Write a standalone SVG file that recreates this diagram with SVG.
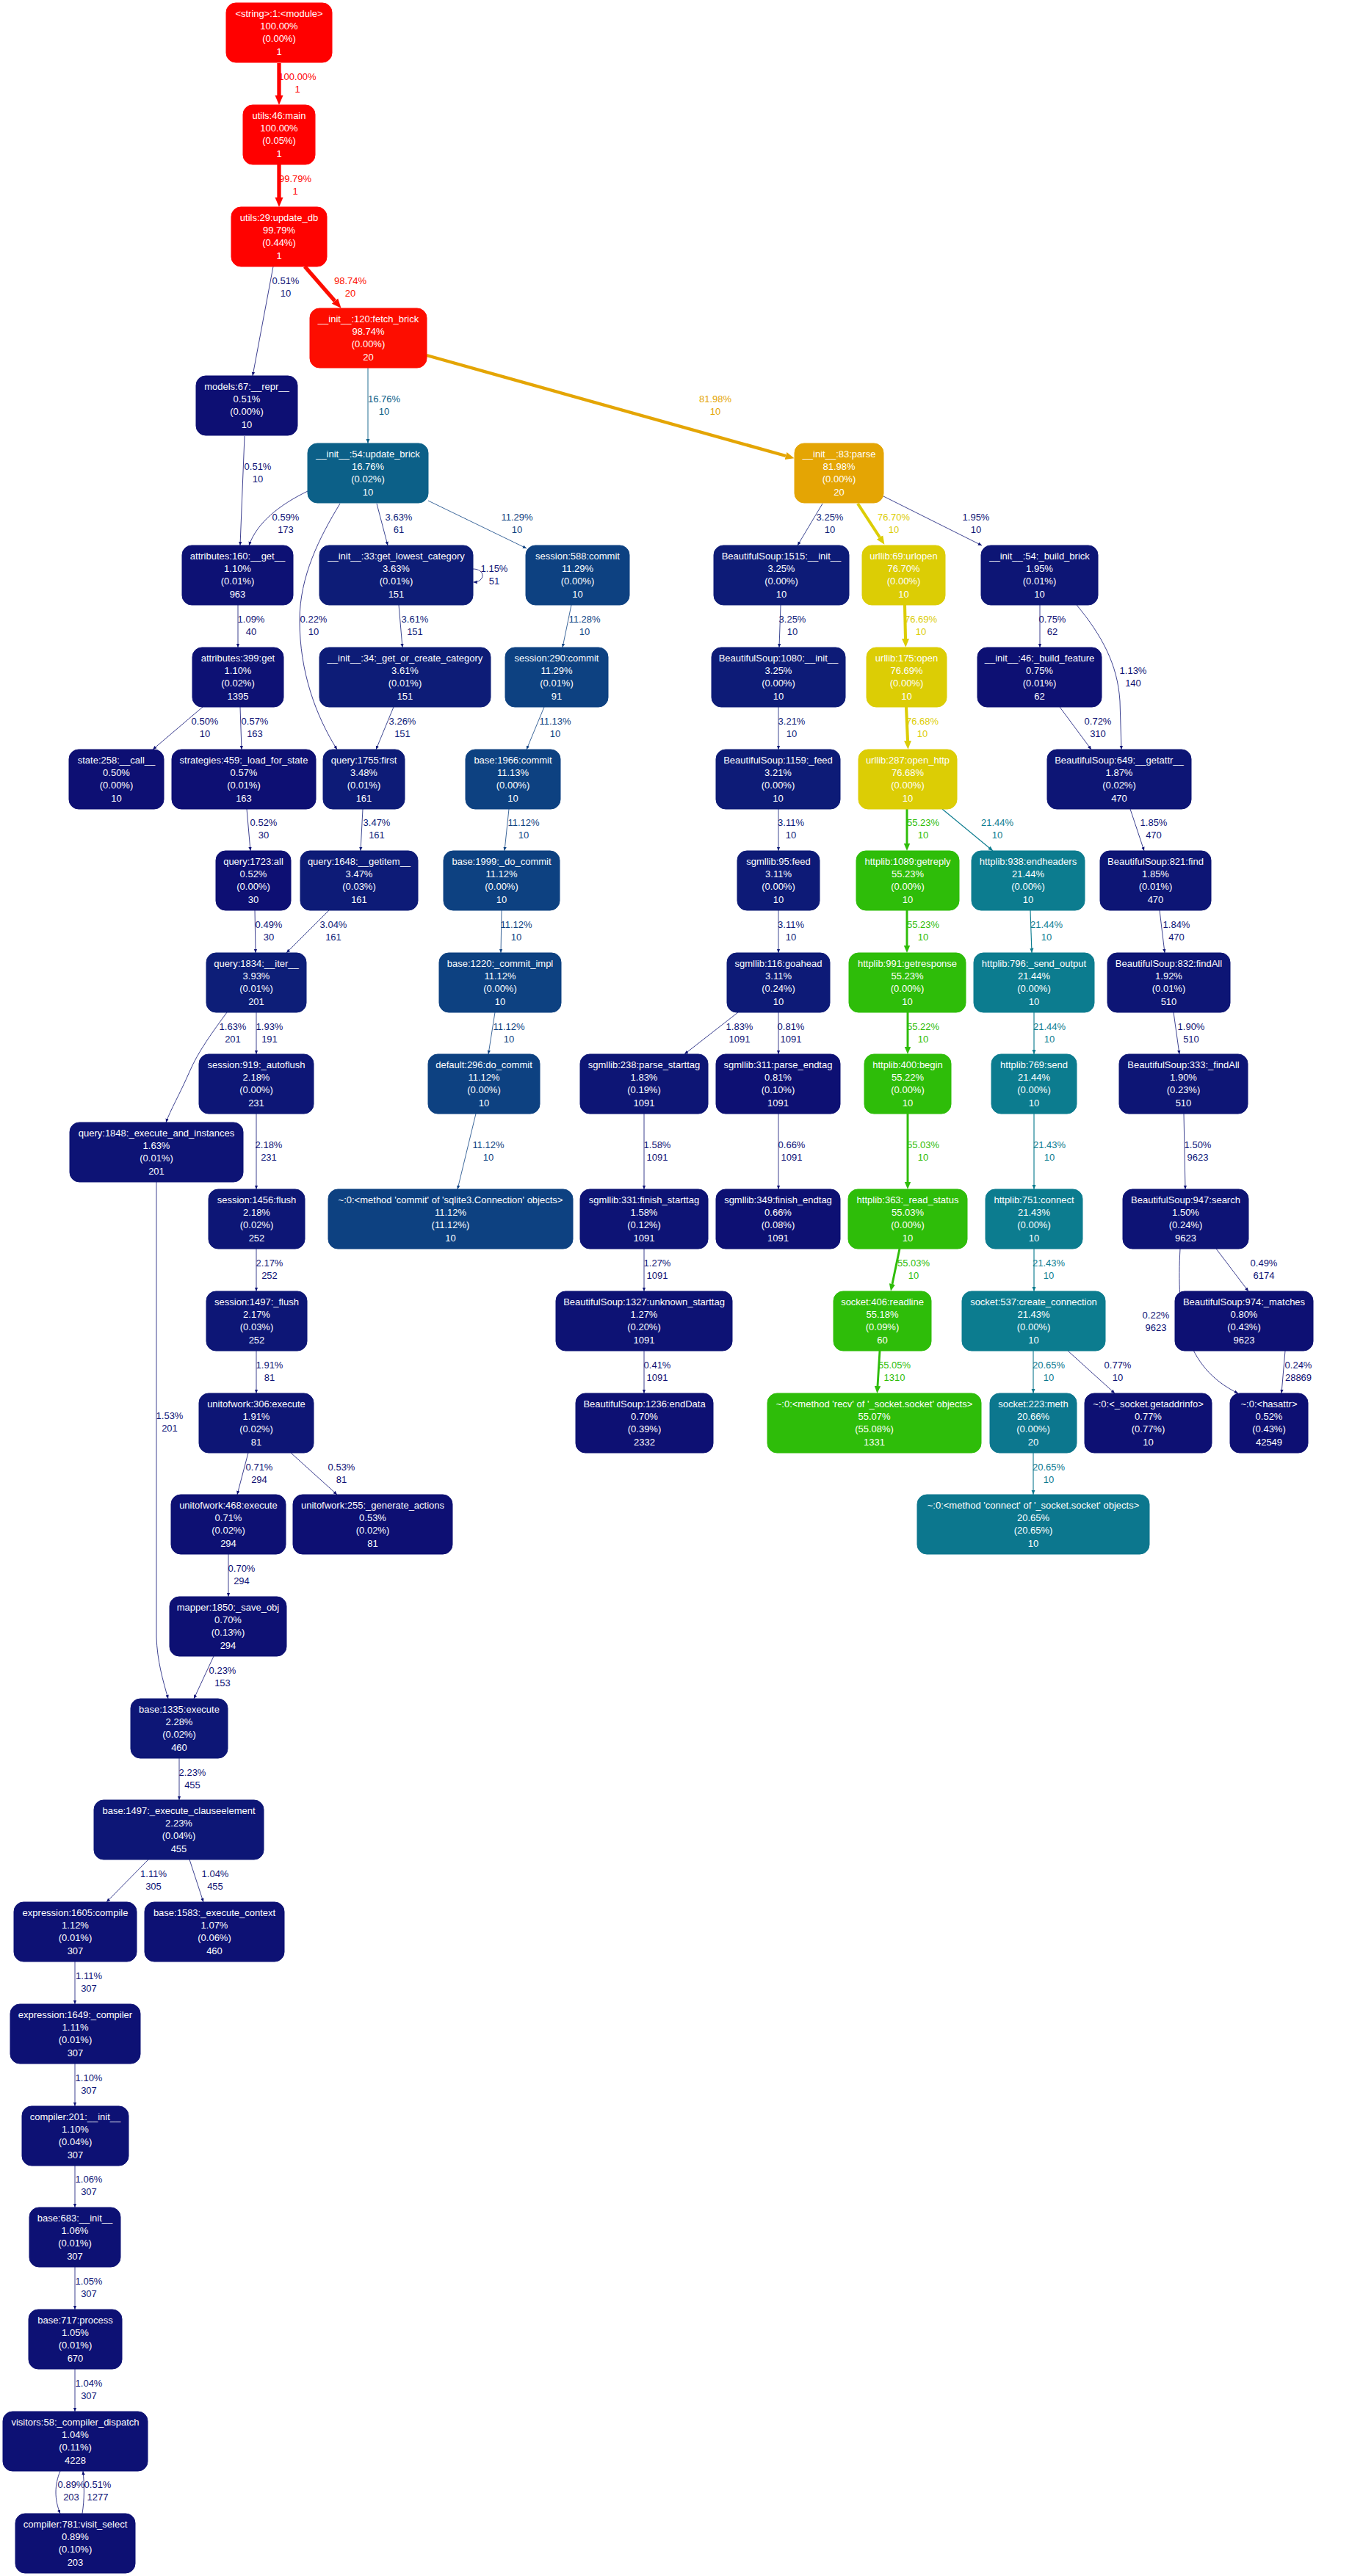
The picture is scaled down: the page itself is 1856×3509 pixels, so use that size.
<svg xmlns="http://www.w3.org/2000/svg" width="1856" height="3509" viewBox="0 0 1856 3509">
<style>
  .node rect { stroke-width: 1; }
  .node text { font-family: "Liberation Sans", Arial, Helvetica, sans-serif; font-size: 13px; fill: #ffffff; text-anchor: middle; }
  .edge path { fill: none; stroke-width: 0.8px; }
  .edge text { font-family: "Liberation Sans", Arial, Helvetica, sans-serif; font-size: 13px; text-anchor: middle; }
  /* node fills by inclusive time */
  .cR rect { fill: #ff0000; stroke: #ff0000; }
  .cR2 rect { fill: #ff0200; stroke: #ff0200; }
  .cR3 rect { fill: #fd0d00; stroke: #fd0d00; }
  .cO rect { fill: #e4a504; stroke: #e4a504; }
  .cY rect { fill: #dccd05; stroke: #dccd05; }
  .cG rect { fill: #2ebd09; stroke: #2ebd09; }
  .cT rect { fill: #0c7c8f; stroke: #0c7c8f; }
  .cT2 rect { fill: #0c778e; stroke: #0c778e; }
  .cB16 rect { fill: #0c6088; stroke: #0c6088; }
  .cB11 rect { fill: #0d4181; stroke: #0d4181; }
  .n0 rect { fill: #0d0f73; stroke: #0d0f73; }
  .n1 rect { fill: #0d1073; stroke: #0d1073; }
  .n2 rect { fill: #0d1174; stroke: #0d1174; }
  .n3 rect { fill: #0d1274; stroke: #0d1274; }
  .n4 rect { fill: #0d1375; stroke: #0d1375; }
  .n5 rect { fill: #0d1575; stroke: #0d1575; }
  .n6 rect { fill: #0d1676; stroke: #0d1676; }
  .n7 rect { fill: #0d1a77; stroke: #0d1a77; }
  .n8 rect { fill: #0d1b77; stroke: #0d1b77; }
  .n9 rect { fill: #0d1c77; stroke: #0d1c77; }
  .n10 rect { fill: #0d1e78; stroke: #0d1e78; }
  /* call edges by weight */
  .eR path { stroke: #ff0000; stroke-width: 5.33px; marker-end: url(#mR); } .eR text { fill: #ff0000; }
  .eR2 path { stroke: #ff0200; stroke-width: 5.32px; marker-end: url(#mR2); } .eR2 text { fill: #ff0200; }
  .eR3 path { stroke: #fd0d00; stroke-width: 5.27px; marker-end: url(#mR3); } .eR3 text { fill: #fd0d00; }
  .eO path { stroke: #e4a504; stroke-width: 4.37px; marker-end: url(#mO); } .eO text { fill: #e4a504; }
  .eY path { stroke: #dccd05; stroke-width: 4.09px; marker-end: url(#mY); } .eY text { fill: #dccd05; }
  .eG path { stroke: #2ebd09; stroke-width: 2.94px; marker-end: url(#mG); } .eG text { fill: #2ebd09; }
  .eT path { stroke: #0c7c8f; stroke-width: 1.14px; marker-end: url(#mT); } .eT text { fill: #0c7c8f; }
  .eT2 path { stroke: #0c778e; stroke-width: 1.1px; marker-end: url(#mT2); } .eT2 text { fill: #0c778e; }
  .eB16 path { stroke: #0c6088; stroke-width: 0.9px; marker-end: url(#mB16); } .eB16 text { fill: #0c6088; }
  .eB11 path { stroke: #0d4181; marker-end: url(#mB11); } .eB11 text { fill: #0d4181; }
  .eN0 path { stroke: #0d0f73; marker-end: url(#mN0); } .eN0 text { fill: #0d0f73; }
  .eN1 path { stroke: #0d1375; marker-end: url(#mN1); } .eN1 text { fill: #0d1375; }
  .eN2 path { stroke: #0d1b77; marker-end: url(#mN2); } .eN2 text { fill: #0d1b77; }
</style>
<defs>
  <!-- heavy arrows: base sits on the path end -->
  <marker id="mR" markerUnits="userSpaceOnUse" viewBox="0 -6 14 12" markerWidth="14" markerHeight="12" refX="0" refY="0" orient="auto"><path d="M0,-5.5 L13,0 L0,5.5 z" fill="#ff0000"/></marker>
  <marker id="mR2" markerUnits="userSpaceOnUse" viewBox="0 -6 14 12" markerWidth="14" markerHeight="12" refX="0" refY="0" orient="auto"><path d="M0,-5.5 L13,0 L0,5.5 z" fill="#ff0200"/></marker>
  <marker id="mR3" markerUnits="userSpaceOnUse" viewBox="0 -6 14 12" markerWidth="14" markerHeight="12" refX="0" refY="0" orient="auto"><path d="M0,-5.5 L13,0 L0,5.5 z" fill="#fd0d00"/></marker>
  <marker id="mO" markerUnits="userSpaceOnUse" viewBox="0 -6 13 12" markerWidth="13" markerHeight="12" refX="0" refY="0" orient="auto"><path d="M0,-5.2 L12,0 L0,5.2 z" fill="#e4a504"/></marker>
  <marker id="mY" markerUnits="userSpaceOnUse" viewBox="0 -6 13 12" markerWidth="13" markerHeight="12" refX="0" refY="0" orient="auto"><path d="M0,-5 L11.7,0 L0,5 z" fill="#dccd05"/></marker>
  <marker id="mG" markerUnits="userSpaceOnUse" viewBox="0 -5 11 10" markerWidth="11" markerHeight="10" refX="0" refY="0" orient="auto"><path d="M0,-4.2 L9.9,0 L0,4.2 z" fill="#2ebd09"/></marker>
  <!-- light arrows: tip sits on the path end -->
  <marker id="mT" markerUnits="userSpaceOnUse" viewBox="0 -3 7 6" markerWidth="7" markerHeight="6" refX="6.5" refY="0" orient="auto"><path d="M0,-2.7 L6.5,0 L0,2.7 z" fill="#0c7c8f"/></marker>
  <marker id="mT2" markerUnits="userSpaceOnUse" viewBox="0 -3 7 6" markerWidth="7" markerHeight="6" refX="6.4" refY="0" orient="auto"><path d="M0,-2.6 L6.4,0 L0,2.6 z" fill="#0c778e"/></marker>
  <marker id="mB16" markerUnits="userSpaceOnUse" viewBox="0 -3 7 6" markerWidth="7" markerHeight="6" refX="6" refY="0" orient="auto"><path d="M0,-2.5 L6,0 L0,2.5 z" fill="#0c6088"/></marker>
  <marker id="mB11" markerUnits="userSpaceOnUse" viewBox="0 -3 6 6" markerWidth="6" markerHeight="6" refX="5.2" refY="0" orient="auto"><path d="M0,-2.2 L5.2,0 L0,2.2 z" fill="#0d4181"/></marker>
  <marker id="mN0" markerUnits="userSpaceOnUse" viewBox="0 -3 6 6" markerWidth="6" markerHeight="6" refX="5.2" refY="0" orient="auto"><path d="M0,-2.2 L5.2,0 L0,2.2 z" fill="#0d0f73"/></marker>
  <marker id="mN1" markerUnits="userSpaceOnUse" viewBox="0 -3 6 6" markerWidth="6" markerHeight="6" refX="5.2" refY="0" orient="auto"><path d="M0,-2.2 L5.2,0 L0,2.2 z" fill="#0d1375"/></marker>
  <marker id="mN2" markerUnits="userSpaceOnUse" viewBox="0 -3 6 6" markerWidth="6" markerHeight="6" refX="5.2" refY="0" orient="auto"><path d="M0,-2.2 L5.2,0 L0,2.2 z" fill="#0d1b77"/></marker>
</defs>
<rect x="0" y="0" width="1856" height="3509" fill="#ffffff"/>

<g id="edges">
  <g class="edge eR"><path d="M380,86 L380,130"/><text x="405" y="108.7">100.00%<tspan x="405" dy="17.5">1</tspan></text></g>
  <g class="edge eR2"><path d="M380,224 L380,269"/><text x="402" y="247.7">99.79%<tspan x="402" dy="17.5">1</tspan></text></g>
  <g class="edge eR3"><path d="M415,363 L456,410"/><text x="477" y="386.7">98.74%<tspan x="477" dy="17.5">20</tspan></text></g>
  <g class="edge eN0"><path d="M372,363 L344,512"/><text x="389" y="386.7">0.51%<tspan x="389" dy="17.5">10</tspan></text></g>
  <g class="edge eB16"><path d="M501,501 L501,604"/><text x="523" y="547.7">16.76%<tspan x="523" dy="17.5">10</tspan></text></g>
  <g class="edge eO"><path d="M581,484 L1070,621"/><text x="974" y="547.7">81.98%<tspan x="974" dy="17.5">10</tspan></text></g>
  <g class="edge eN0"><path d="M419,669 C380,688 350,712 339,743"/><text x="389" y="708.7">0.59%<tspan x="389" dy="17.5">173</tspan></text></g>
  <g class="edge eN0"><path d="M333,594 L327,743"/><text x="351" y="639.7">0.51%<tspan x="351" dy="17.5">10</tspan></text></g>
  <g class="edge eN0"><path d="M463,686 C435,732 408,785 408,845 C408,915 430,975 459,1021"/><text x="427" y="847.7">0.22%<tspan x="427" dy="17.5">10</tspan></text></g>
  <g class="edge eN2"><path d="M513,686 L528,743"/><text x="543" y="708.7">3.63%<tspan x="543" dy="17.5">61</tspan></text></g>
  <g class="edge eB11"><path d="M583,682 L717,747"/><text x="704" y="708.7">11.29%<tspan x="704" dy="17.5">10</tspan></text></g>
  <g class="edge eN1"><path d="M644,775 C652,775 657,779 657,784 C657,789 652,793 644.5,793"/><text x="673" y="778.7">1.15%<tspan x="673" dy="17.5">51</tspan></text></g>
  <g class="edge eN2"><path d="M1120,686 L1086,743"/><text x="1130" y="708.7">3.25%<tspan x="1130" dy="17.5">10</tspan></text></g>
  <g class="edge eY"><path d="M1168,686 L1198,732"/><text x="1217" y="708.7">76.70%<tspan x="1217" dy="17.5">10</tspan></text></g>
  <g class="edge eN1"><path d="M1203,676 L1337,743"/><text x="1329" y="708.7">1.95%<tspan x="1329" dy="17.5">10</tspan></text></g>
  <g class="edge eN1"><path d="M324,824 L324,882"/><text x="342" y="847.7">1.09%<tspan x="342" dy="17.5">40</tspan></text></g>
  <g class="edge eN2"><path d="M543,824 L548,882"/><text x="565" y="847.7">3.61%<tspan x="565" dy="17.5">151</tspan></text></g>
  <g class="edge eB11"><path d="M778,824 L766,882"/><text x="796" y="847.7">11.28%<tspan x="796" dy="17.5">10</tspan></text></g>
  <g class="edge eN2"><path d="M1063,824 L1061,882"/><text x="1079" y="847.7">3.25%<tspan x="1079" dy="17.5">10</tspan></text></g>
  <g class="edge eY"><path d="M1232,824 L1233,870"/><text x="1254" y="847.7">76.69%<tspan x="1254" dy="17.5">10</tspan></text></g>
  <g class="edge eN0"><path d="M1416,824 L1416,882"/><text x="1433" y="847.7">0.75%<tspan x="1433" dy="17.5">62</tspan></text></g>
  <g class="edge eN1"><path d="M1466,824 C1500,865 1522,905 1525,955 L1527,1021"/><text x="1543" y="917.7">1.13%<tspan x="1543" dy="17.5">140</tspan></text></g>
  <g class="edge eN0"><path d="M276,963 L208,1021"/><text x="279" y="986.7">0.50%<tspan x="279" dy="17.5">10</tspan></text></g>
  <g class="edge eN0"><path d="M327,963 L329,1021"/><text x="347" y="986.7">0.57%<tspan x="347" dy="17.5">163</tspan></text></g>
  <g class="edge eN2"><path d="M536,963 L512,1021"/><text x="548" y="986.7">3.26%<tspan x="548" dy="17.5">151</tspan></text></g>
  <g class="edge eB11"><path d="M741,963 L717,1021"/><text x="756" y="986.7">11.13%<tspan x="756" dy="17.5">10</tspan></text></g>
  <g class="edge eN2"><path d="M1060,963 L1060,1021"/><text x="1078" y="986.7">3.21%<tspan x="1078" dy="17.5">10</tspan></text></g>
  <g class="edge eY"><path d="M1234,963 L1236,1009"/><text x="1256" y="986.7">76.68%<tspan x="1256" dy="17.5">10</tspan></text></g>
  <g class="edge eN0"><path d="M1443,963 L1486,1021"/><text x="1495" y="986.7">0.72%<tspan x="1495" dy="17.5">310</tspan></text></g>
  <g class="edge eN0"><path d="M336,1102 L341,1159"/><text x="359" y="1124.7">0.52%<tspan x="359" dy="17.5">30</tspan></text></g>
  <g class="edge eN2"><path d="M494,1102 L491,1159"/><text x="513" y="1124.7">3.47%<tspan x="513" dy="17.5">161</tspan></text></g>
  <g class="edge eB11"><path d="M693,1102 L687,1159"/><text x="713" y="1124.7">11.12%<tspan x="713" dy="17.5">10</tspan></text></g>
  <g class="edge eN2"><path d="M1060,1102 L1060,1159"/><text x="1077" y="1124.7">3.11%<tspan x="1077" dy="17.5">10</tspan></text></g>
  <g class="edge eG"><path d="M1235,1102 L1235,1149"/><text x="1257" y="1124.7">55.23%<tspan x="1257" dy="17.5">10</tspan></text></g>
  <g class="edge eT"><path d="M1283,1102 L1352,1159"/><text x="1358" y="1124.7">21.44%<tspan x="1358" dy="17.5">10</tspan></text></g>
  <g class="edge eN1"><path d="M1539,1102 L1558,1159"/><text x="1571" y="1124.7">1.85%<tspan x="1571" dy="17.5">470</tspan></text></g>
  <g class="edge eN0"><path d="M347,1240 L348,1298"/><text x="366" y="1263.7">0.49%<tspan x="366" dy="17.5">30</tspan></text></g>
  <g class="edge eN2"><path d="M448,1240 L390,1298"/><text x="454" y="1263.7">3.04%<tspan x="454" dy="17.5">161</tspan></text></g>
  <g class="edge eB11"><path d="M683,1240 L682,1298"/><text x="703" y="1263.7">11.12%<tspan x="703" dy="17.5">10</tspan></text></g>
  <g class="edge eN2"><path d="M1060,1240 L1060,1298"/><text x="1077" y="1263.7">3.11%<tspan x="1077" dy="17.5">10</tspan></text></g>
  <g class="edge eG"><path d="M1235,1240 L1235,1288"/><text x="1257" y="1263.7">55.23%<tspan x="1257" dy="17.5">10</tspan></text></g>
  <g class="edge eT"><path d="M1403,1240 L1405,1298"/><text x="1425" y="1263.7">21.44%<tspan x="1425" dy="17.5">10</tspan></text></g>
  <g class="edge eN1"><path d="M1579,1240 L1586,1298"/><text x="1602" y="1263.7">1.84%<tspan x="1602" dy="17.5">470</tspan></text></g>
  <g class="edge eN1"><path d="M309,1379 C290,1405 270,1432 258,1460 C245,1490 232,1512 226,1529"/><text x="317" y="1402.7">1.63%<tspan x="317" dy="17.5">201</tspan></text></g>
  <g class="edge eN1"><path d="M349,1379 L349,1436"/><text x="367" y="1402.7">1.93%<tspan x="367" dy="17.5">191</tspan></text></g>
  <g class="edge eB11"><path d="M674,1379 L665,1436"/><text x="693" y="1402.7">11.12%<tspan x="693" dy="17.5">10</tspan></text></g>
  <g class="edge eN1"><path d="M1005,1379 L932,1436"/><text x="1007" y="1402.7">1.83%<tspan x="1007" dy="17.5">1091</tspan></text></g>
  <g class="edge eN0"><path d="M1060,1379 L1060,1436"/><text x="1077" y="1402.7">0.81%<tspan x="1077" dy="17.5">1091</tspan></text></g>
  <g class="edge eG"><path d="M1236,1379 L1236,1426"/><text x="1257" y="1402.7">55.22%<tspan x="1257" dy="17.5">10</tspan></text></g>
  <g class="edge eT"><path d="M1408,1379 L1408,1436"/><text x="1429" y="1402.7">21.44%<tspan x="1429" dy="17.5">10</tspan></text></g>
  <g class="edge eN1"><path d="M1598,1379 L1606,1436"/><text x="1622" y="1402.7">1.90%<tspan x="1622" dy="17.5">510</tspan></text></g>
  <g class="edge eN1"><path d="M349,1517 L349,1620"/><text x="366" y="1563.7">2.18%<tspan x="366" dy="17.5">231</tspan></text></g>
  <g class="edge eB11"><path d="M648,1517 L623,1620"/><text x="665" y="1563.7">11.12%<tspan x="665" dy="17.5">10</tspan></text></g>
  <g class="edge eN1"><path d="M877,1517 L877,1620"/><text x="895" y="1563.7">1.58%<tspan x="895" dy="17.5">1091</tspan></text></g>
  <g class="edge eN0"><path d="M1060,1517 L1060,1620"/><text x="1078" y="1563.7">0.66%<tspan x="1078" dy="17.5">1091</tspan></text></g>
  <g class="edge eG"><path d="M1236,1517 L1236,1610"/><text x="1257" y="1563.7">55.03%<tspan x="1257" dy="17.5">10</tspan></text></g>
  <g class="edge eT"><path d="M1408,1517 L1408,1620"/><text x="1429" y="1563.7">21.43%<tspan x="1429" dy="17.5">10</tspan></text></g>
  <g class="edge eN1"><path d="M1612,1517 L1614,1620"/><text x="1631" y="1563.7">1.50%<tspan x="1631" dy="17.5">9623</tspan></text></g>
  <g class="edge eN1"><path d="M213,1610 L213,2230 C214,2262 222,2290 229,2314"/><text x="231" y="1932.7">1.53%<tspan x="231" dy="17.5">201</tspan></text></g>
  <g class="edge eN1"><path d="M349,1701 L349,1759"/><text x="367" y="1724.7">2.17%<tspan x="367" dy="17.5">252</tspan></text></g>
  <g class="edge eN1"><path d="M877,1701 L877,1759"/><text x="895" y="1724.7">1.27%<tspan x="895" dy="17.5">1091</tspan></text></g>
  <g class="edge eG"><path d="M1225,1701 L1215,1749"/><text x="1244" y="1724.7">55.03%<tspan x="1244" dy="17.5">10</tspan></text></g>
  <g class="edge eT"><path d="M1408,1701 L1408,1759"/><text x="1428" y="1724.7">21.43%<tspan x="1428" dy="17.5">10</tspan></text></g>
  <g class="edge eN0"><path d="M1656,1701 L1700,1759"/><text x="1721" y="1724.7">0.49%<tspan x="1721" dy="17.5">6174</tspan></text></g>
  <g class="edge eN0"><path d="M1607,1701 C1602,1790 1612,1862 1686,1898"/><text x="1574" y="1795.7">0.22%<tspan x="1574" dy="17.5">9623</tspan></text></g>
  <g class="edge eN0"><path d="M1750,1840 L1745,1898"/><text x="1768" y="1863.7">0.24%<tspan x="1768" dy="17.5">28869</tspan></text></g>
  <g class="edge eN1"><path d="M349,1840 L349,1898"/><text x="367" y="1863.7">1.91%<tspan x="367" dy="17.5">81</tspan></text></g>
  <g class="edge eN0"><path d="M877,1840 L877,1898"/><text x="895" y="1863.7">0.41%<tspan x="895" dy="17.5">1091</tspan></text></g>
  <g class="edge eG"><path d="M1198,1840 L1195,1888"/><text x="1218" y="1863.7">55.05%<tspan x="1218" dy="17.5">1310</tspan></text></g>
  <g class="edge eT2"><path d="M1407,1840 L1407,1898"/><text x="1428" y="1863.7">20.65%<tspan x="1428" dy="17.5">10</tspan></text></g>
  <g class="edge eN0"><path d="M1454,1840 L1518,1898"/><text x="1522" y="1863.7">0.77%<tspan x="1522" dy="17.5">10</tspan></text></g>
  <g class="edge eN0"><path d="M338,1979 L323,2036"/><text x="353" y="2002.7">0.71%<tspan x="353" dy="17.5">294</tspan></text></g>
  <g class="edge eN0"><path d="M396,1979 L459,2036"/><text x="465" y="2002.7">0.53%<tspan x="465" dy="17.5">81</tspan></text></g>
  <g class="edge eT2"><path d="M1407,1979 L1407,2036"/><text x="1428" y="2002.7">20.65%<tspan x="1428" dy="17.5">10</tspan></text></g>
  <g class="edge eN0"><path d="M311,2117 L311,2175"/><text x="329" y="2140.7">0.70%<tspan x="329" dy="17.5">294</tspan></text></g>
  <g class="edge eN0"><path d="M291,2256 L264,2314"/><text x="303" y="2279.7">0.23%<tspan x="303" dy="17.5">153</tspan></text></g>
  <g class="edge eN1"><path d="M244,2395 L244,2452"/><text x="262" y="2418.7">2.23%<tspan x="262" dy="17.5">455</tspan></text></g>
  <g class="edge eN1"><path d="M202,2533 L145,2591"/><text x="209" y="2556.7">1.11%<tspan x="209" dy="17.5">305</tspan></text></g>
  <g class="edge eN1"><path d="M258,2533 L277,2591"/><text x="293" y="2556.7">1.04%<tspan x="293" dy="17.5">455</tspan></text></g>
  <g class="edge eN1"><path d="M102,2672 L102,2730"/><text x="121" y="2695.7">1.11%<tspan x="121" dy="17.5">307</tspan></text></g>
  <g class="edge eN1"><path d="M102,2811 L102,2869"/><text x="121" y="2834.7">1.10%<tspan x="121" dy="17.5">307</tspan></text></g>
  <g class="edge eN1"><path d="M102,2950 L102,3007"/><text x="121" y="2972.7">1.06%<tspan x="121" dy="17.5">307</tspan></text></g>
  <g class="edge eN1"><path d="M102,3088 L102,3146"/><text x="121" y="3111.7">1.05%<tspan x="121" dy="17.5">307</tspan></text></g>
  <g class="edge eN1"><path d="M102,3227 L102,3285"/><text x="121" y="3250.7">1.04%<tspan x="121" dy="17.5">307</tspan></text></g>
  <g class="edge eN0"><path d="M82,3366 C74,3385 74,3405 82,3424"/><text x="97" y="3388.7">0.89%<tspan x="97" dy="17.5">203</tspan></text></g>
  <g class="edge eN0"><path d="M112,3424 C115,3405 115,3385 113,3366"/><text x="133" y="3388.7">0.51%<tspan x="133" dy="17.5">1277</tspan></text></g>
</g>

<g id="n_module" class="node cR"><rect x="308" y="4" width="144" height="81" rx="13"/><text><tspan x="380" y="23">&lt;string&gt;:1:&lt;module&gt;</tspan><tspan x="380" y="40.2">100.00%</tspan><tspan x="380" y="57.4">(0.00%)</tspan><tspan x="380" y="74.7">1</tspan></text></g>
<g id="n_main" class="node cR"><rect x="331" y="143" width="98" height="81" rx="13"/><text><tspan x="380" y="162">utils:46:main</tspan><tspan x="380" y="179.2">100.00%</tspan><tspan x="380" y="196.4">(0.05%)</tspan><tspan x="380" y="213.7">1</tspan></text></g>
<g id="n_update_db" class="node cR2"><rect x="315" y="282" width="130" height="81" rx="13"/><text><tspan x="380" y="301">utils:29:update_db</tspan><tspan x="380" y="318.2">99.79%</tspan><tspan x="380" y="335.4">(0.44%)</tspan><tspan x="380" y="352.7">1</tspan></text></g>
<g id="n_fetch_brick" class="node cR3"><rect x="422" y="420" width="159" height="81" rx="13"/><text><tspan x="501.5" y="439">__init__:120:fetch_brick</tspan><tspan x="501.5" y="456.2">98.74%</tspan><tspan x="501.5" y="473.4">(0.00%)</tspan><tspan x="501.5" y="490.7">20</tspan></text></g>
<g id="n_models67" class="node n0"><rect x="267" y="512" width="138" height="81" rx="13"/><text><tspan x="336" y="531">models:67:__repr__</tspan><tspan x="336" y="548.2">0.51%</tspan><tspan x="336" y="565.4">(0.00%)</tspan><tspan x="336" y="582.7">10</tspan></text></g>
<g id="n_update_brick" class="node cB16"><rect x="419" y="604" width="164" height="81" rx="13"/><text><tspan x="501" y="623">__init__:54:update_brick</tspan><tspan x="501" y="640.2">16.76%</tspan><tspan x="501" y="657.4">(0.02%)</tspan><tspan x="501" y="674.7">10</tspan></text></g>
<g id="n_parse" class="node cO"><rect x="1082" y="604" width="121" height="81" rx="13"/><text><tspan x="1142.5" y="623">__init__:83:parse</tspan><tspan x="1142.5" y="640.2">81.98%</tspan><tspan x="1142.5" y="657.4">(0.00%)</tspan><tspan x="1142.5" y="674.7">20</tspan></text></g>
<g id="n_attr160" class="node n2"><rect x="248" y="743" width="151" height="81" rx="13"/><text><tspan x="323.5" y="762">attributes:160:__get__</tspan><tspan x="323.5" y="779.2">1.10%</tspan><tspan x="323.5" y="796.4">(0.01%)</tspan><tspan x="323.5" y="813.7">963</tspan></text></g>
<g id="n_glc33" class="node n9"><rect x="435" y="743" width="209" height="81" rx="13"/><text><tspan x="539.5" y="762">__init__:33:get_lowest_category</tspan><tspan x="539.5" y="779.2">3.63%</tspan><tspan x="539.5" y="796.4">(0.01%)</tspan><tspan x="539.5" y="813.7">151</tspan></text></g>
<g id="n_session588" class="node cB11"><rect x="716" y="743" width="141" height="81" rx="13"/><text><tspan x="786.5" y="762">session:588:commit</tspan><tspan x="786.5" y="779.2">11.29%</tspan><tspan x="786.5" y="796.4">(0.00%)</tspan><tspan x="786.5" y="813.7">10</tspan></text></g>
<g id="n_bs1515" class="node n8"><rect x="972" y="743" width="184" height="81" rx="13"/><text><tspan x="1064" y="762">BeautifulSoup:1515:__init__</tspan><tspan x="1064" y="779.2">3.25%</tspan><tspan x="1064" y="796.4">(0.00%)</tspan><tspan x="1064" y="813.7">10</tspan></text></g>
<g id="n_urlopen" class="node cY"><rect x="1174" y="743" width="113" height="81" rx="13"/><text><tspan x="1230.5" y="762">urllib:69:urlopen</tspan><tspan x="1230.5" y="779.2">76.70%</tspan><tspan x="1230.5" y="796.4">(0.00%)</tspan><tspan x="1230.5" y="813.7">10</tspan></text></g>
<g id="n_build_brick" class="node n5"><rect x="1336" y="743" width="159" height="81" rx="13"/><text><tspan x="1415.5" y="762">__init__:54:_build_brick</tspan><tspan x="1415.5" y="779.2">1.95%</tspan><tspan x="1415.5" y="796.4">(0.01%)</tspan><tspan x="1415.5" y="813.7">10</tspan></text></g>
<g id="n_attr399" class="node n2"><rect x="262" y="882" width="124" height="81" rx="13"/><text><tspan x="324" y="901">attributes:399:get</tspan><tspan x="324" y="918.2">1.10%</tspan><tspan x="324" y="935.4">(0.02%)</tspan><tspan x="324" y="952.7">1395</tspan></text></g>
<g id="n_goc34" class="node n9"><rect x="435" y="882" width="233" height="81" rx="13"/><text><tspan x="551.5" y="901">__init__:34:_get_or_create_category</tspan><tspan x="551.5" y="918.2">3.61%</tspan><tspan x="551.5" y="935.4">(0.01%)</tspan><tspan x="551.5" y="952.7">151</tspan></text></g>
<g id="n_session290" class="node cB11"><rect x="688" y="882" width="140" height="81" rx="13"/><text><tspan x="758" y="901">session:290:commit</tspan><tspan x="758" y="918.2">11.29%</tspan><tspan x="758" y="935.4">(0.01%)</tspan><tspan x="758" y="952.7">91</tspan></text></g>
<g id="n_bs1080" class="node n8"><rect x="969" y="882" width="182" height="81" rx="13"/><text><tspan x="1060" y="901">BeautifulSoup:1080:__init__</tspan><tspan x="1060" y="918.2">3.25%</tspan><tspan x="1060" y="935.4">(0.00%)</tspan><tspan x="1060" y="952.7">10</tspan></text></g>
<g id="n_urllib175" class="node cY"><rect x="1180" y="882" width="109" height="81" rx="13"/><text><tspan x="1234.5" y="901">urllib:175:open</tspan><tspan x="1234.5" y="918.2">76.69%</tspan><tspan x="1234.5" y="935.4">(0.00%)</tspan><tspan x="1234.5" y="952.7">10</tspan></text></g>
<g id="n_build_feature" class="node n1"><rect x="1331" y="882" width="169" height="81" rx="13"/><text><tspan x="1415.5" y="901">__init__:46:_build_feature</tspan><tspan x="1415.5" y="918.2">0.75%</tspan><tspan x="1415.5" y="935.4">(0.01%)</tspan><tspan x="1415.5" y="952.7">62</tspan></text></g>
<g id="n_state258" class="node n0"><rect x="94" y="1021" width="129" height="81" rx="13"/><text><tspan x="158.5" y="1040">state:258:__call__</tspan><tspan x="158.5" y="1057.2">0.50%</tspan><tspan x="158.5" y="1074.4">(0.00%)</tspan><tspan x="158.5" y="1091.7">10</tspan></text></g>
<g id="n_strategies459" class="node n0"><rect x="234" y="1021" width="196" height="81" rx="13"/><text><tspan x="332" y="1040">strategies:459:_load_for_state</tspan><tspan x="332" y="1057.2">0.57%</tspan><tspan x="332" y="1074.4">(0.01%)</tspan><tspan x="332" y="1091.7">163</tspan></text></g>
<g id="n_query1755" class="node n8"><rect x="440" y="1021" width="111" height="81" rx="13"/><text><tspan x="495.5" y="1040">query:1755:first</tspan><tspan x="495.5" y="1057.2">3.48%</tspan><tspan x="495.5" y="1074.4">(0.01%)</tspan><tspan x="495.5" y="1091.7">161</tspan></text></g>
<g id="n_base1966" class="node cB11"><rect x="634" y="1021" width="129" height="81" rx="13"/><text><tspan x="698.5" y="1040">base:1966:commit</tspan><tspan x="698.5" y="1057.2">11.13%</tspan><tspan x="698.5" y="1074.4">(0.00%)</tspan><tspan x="698.5" y="1091.7">10</tspan></text></g>
<g id="n_bs1159" class="node n8"><rect x="975" y="1021" width="169" height="81" rx="13"/><text><tspan x="1059.5" y="1040">BeautifulSoup:1159:_feed</tspan><tspan x="1059.5" y="1057.2">3.21%</tspan><tspan x="1059.5" y="1074.4">(0.00%)</tspan><tspan x="1059.5" y="1091.7">10</tspan></text></g>
<g id="n_urllib287" class="node cY"><rect x="1169" y="1021" width="134" height="81" rx="13"/><text><tspan x="1236" y="1040">urllib:287:open_http</tspan><tspan x="1236" y="1057.2">76.68%</tspan><tspan x="1236" y="1074.4">(0.00%)</tspan><tspan x="1236" y="1091.7">10</tspan></text></g>
<g id="n_bs649" class="node n5"><rect x="1426" y="1021" width="196" height="81" rx="13"/><text><tspan x="1524" y="1040">BeautifulSoup:649:__getattr__</tspan><tspan x="1524" y="1057.2">1.87%</tspan><tspan x="1524" y="1074.4">(0.02%)</tspan><tspan x="1524" y="1091.7">470</tspan></text></g>
<g id="n_query1723" class="node n0"><rect x="294" y="1159" width="102" height="81" rx="13"/><text><tspan x="345" y="1178">query:1723:all</tspan><tspan x="345" y="1195.2">0.52%</tspan><tspan x="345" y="1212.4">(0.00%)</tspan><tspan x="345" y="1229.7">30</tspan></text></g>
<g id="n_query1648" class="node n8"><rect x="409" y="1159" width="160" height="81" rx="13"/><text><tspan x="489" y="1178">query:1648:__getitem__</tspan><tspan x="489" y="1195.2">3.47%</tspan><tspan x="489" y="1212.4">(0.03%)</tspan><tspan x="489" y="1229.7">161</tspan></text></g>
<g id="n_base1999" class="node cB11"><rect x="604" y="1159" width="158" height="81" rx="13"/><text><tspan x="683" y="1178">base:1999:_do_commit</tspan><tspan x="683" y="1195.2">11.12%</tspan><tspan x="683" y="1212.4">(0.00%)</tspan><tspan x="683" y="1229.7">10</tspan></text></g>
<g id="n_sgmllib95" class="node n7"><rect x="1004" y="1159" width="112" height="81" rx="13"/><text><tspan x="1060" y="1178">sgmllib:95:feed</tspan><tspan x="1060" y="1195.2">3.11%</tspan><tspan x="1060" y="1212.4">(0.00%)</tspan><tspan x="1060" y="1229.7">10</tspan></text></g>
<g id="n_httplib1089" class="node cG"><rect x="1166" y="1159" width="140" height="81" rx="13"/><text><tspan x="1236" y="1178">httplib:1089:getreply</tspan><tspan x="1236" y="1195.2">55.23%</tspan><tspan x="1236" y="1212.4">(0.00%)</tspan><tspan x="1236" y="1229.7">10</tspan></text></g>
<g id="n_httplib938" class="node cT"><rect x="1323" y="1159" width="154" height="81" rx="13"/><text><tspan x="1400" y="1178">httplib:938:endheaders</tspan><tspan x="1400" y="1195.2">21.44%</tspan><tspan x="1400" y="1212.4">(0.00%)</tspan><tspan x="1400" y="1229.7">10</tspan></text></g>
<g id="n_bs821" class="node n5"><rect x="1498" y="1159" width="151" height="81" rx="13"/><text><tspan x="1573.5" y="1178">BeautifulSoup:821:find</tspan><tspan x="1573.5" y="1195.2">1.85%</tspan><tspan x="1573.5" y="1212.4">(0.01%)</tspan><tspan x="1573.5" y="1229.7">470</tspan></text></g>
<g id="n_query1834" class="node n10"><rect x="281" y="1298" width="136" height="81" rx="13"/><text><tspan x="349" y="1317">query:1834:__iter__</tspan><tspan x="349" y="1334.2">3.93%</tspan><tspan x="349" y="1351.4">(0.01%)</tspan><tspan x="349" y="1368.7">201</tspan></text></g>
<g id="n_base1220" class="node cB11"><rect x="598" y="1298" width="166" height="81" rx="13"/><text><tspan x="681" y="1317">base:1220:_commit_impl</tspan><tspan x="681" y="1334.2">11.12%</tspan><tspan x="681" y="1351.4">(0.00%)</tspan><tspan x="681" y="1368.7">10</tspan></text></g>
<g id="n_sgmllib116" class="node n7"><rect x="990" y="1298" width="140" height="81" rx="13"/><text><tspan x="1060" y="1317">sgmllib:116:goahead</tspan><tspan x="1060" y="1334.2">3.11%</tspan><tspan x="1060" y="1351.4">(0.24%)</tspan><tspan x="1060" y="1368.7">10</tspan></text></g>
<g id="n_httplib991" class="node cG"><rect x="1156" y="1298" width="159" height="81" rx="13"/><text><tspan x="1235.5" y="1317">httplib:991:getresponse</tspan><tspan x="1235.5" y="1334.2">55.23%</tspan><tspan x="1235.5" y="1351.4">(0.00%)</tspan><tspan x="1235.5" y="1368.7">10</tspan></text></g>
<g id="n_httplib796" class="node cT"><rect x="1326" y="1298" width="164" height="81" rx="13"/><text><tspan x="1408" y="1317">httplib:796:_send_output</tspan><tspan x="1408" y="1334.2">21.44%</tspan><tspan x="1408" y="1351.4">(0.00%)</tspan><tspan x="1408" y="1368.7">10</tspan></text></g>
<g id="n_bs832" class="node n5"><rect x="1508" y="1298" width="167" height="81" rx="13"/><text><tspan x="1591.5" y="1317">BeautifulSoup:832:findAll</tspan><tspan x="1591.5" y="1334.2">1.92%</tspan><tspan x="1591.5" y="1351.4">(0.01%)</tspan><tspan x="1591.5" y="1368.7">510</tspan></text></g>
<g id="n_session919" class="node n6"><rect x="271" y="1436" width="156" height="81" rx="13"/><text><tspan x="349" y="1455">session:919:_autoflush</tspan><tspan x="349" y="1472.2">2.18%</tspan><tspan x="349" y="1489.4">(0.00%)</tspan><tspan x="349" y="1506.7">231</tspan></text></g>
<g id="n_default296" class="node cB11"><rect x="583" y="1436" width="152" height="81" rx="13"/><text><tspan x="659" y="1455">default:296:do_commit</tspan><tspan x="659" y="1472.2">11.12%</tspan><tspan x="659" y="1489.4">(0.00%)</tspan><tspan x="659" y="1506.7">10</tspan></text></g>
<g id="n_sgmllib238" class="node n5"><rect x="790" y="1436" width="174" height="81" rx="13"/><text><tspan x="877" y="1455">sgmllib:238:parse_starttag</tspan><tspan x="877" y="1472.2">1.83%</tspan><tspan x="877" y="1489.4">(0.19%)</tspan><tspan x="877" y="1506.7">1091</tspan></text></g>
<g id="n_sgmllib311" class="node n1"><rect x="975" y="1436" width="169" height="81" rx="13"/><text><tspan x="1059.5" y="1455">sgmllib:311:parse_endtag</tspan><tspan x="1059.5" y="1472.2">0.81%</tspan><tspan x="1059.5" y="1489.4">(0.10%)</tspan><tspan x="1059.5" y="1506.7">1091</tspan></text></g>
<g id="n_httplib400" class="node cG"><rect x="1177" y="1436" width="118" height="81" rx="13"/><text><tspan x="1236" y="1455">httplib:400:begin</tspan><tspan x="1236" y="1472.2">55.22%</tspan><tspan x="1236" y="1489.4">(0.00%)</tspan><tspan x="1236" y="1506.7">10</tspan></text></g>
<g id="n_httplib769" class="node cT"><rect x="1350" y="1436" width="116" height="81" rx="13"/><text><tspan x="1408" y="1455">httplib:769:send</tspan><tspan x="1408" y="1472.2">21.44%</tspan><tspan x="1408" y="1489.4">(0.00%)</tspan><tspan x="1408" y="1506.7">10</tspan></text></g>
<g id="n_bs333" class="node n5"><rect x="1524" y="1436" width="175" height="81" rx="13"/><text><tspan x="1611.5" y="1455">BeautifulSoup:333:_findAll</tspan><tspan x="1611.5" y="1472.2">1.90%</tspan><tspan x="1611.5" y="1489.4">(0.23%)</tspan><tspan x="1611.5" y="1506.7">510</tspan></text></g>
<g id="n_query1848" class="node n4"><rect x="95" y="1529" width="236" height="81" rx="13"/><text><tspan x="213" y="1548">query:1848:_execute_and_instances</tspan><tspan x="213" y="1565.2">1.63%</tspan><tspan x="213" y="1582.4">(0.01%)</tspan><tspan x="213" y="1599.7">201</tspan></text></g>
<g id="n_session1456" class="node n6"><rect x="284" y="1620" width="131" height="81" rx="13"/><text><tspan x="349.5" y="1639">session:1456:flush</tspan><tspan x="349.5" y="1656.2">2.18%</tspan><tspan x="349.5" y="1673.4">(0.02%)</tspan><tspan x="349.5" y="1690.7">252</tspan></text></g>
<g id="n_sqlite_commit" class="node cB11"><rect x="447" y="1620" width="333" height="81" rx="13"/><text><tspan x="613.5" y="1639">~:0:&lt;method 'commit' of 'sqlite3.Connection' objects&gt;</tspan><tspan x="613.5" y="1656.2">11.12%</tspan><tspan x="613.5" y="1673.4">(11.12%)</tspan><tspan x="613.5" y="1690.7">10</tspan></text></g>
<g id="n_sgmllib331" class="node n4"><rect x="790" y="1620" width="174" height="81" rx="13"/><text><tspan x="877" y="1639">sgmllib:331:finish_starttag</tspan><tspan x="877" y="1656.2">1.58%</tspan><tspan x="877" y="1673.4">(0.12%)</tspan><tspan x="877" y="1690.7">1091</tspan></text></g>
<g id="n_sgmllib349" class="node n1"><rect x="975" y="1620" width="169" height="81" rx="13"/><text><tspan x="1059.5" y="1639">sgmllib:349:finish_endtag</tspan><tspan x="1059.5" y="1656.2">0.66%</tspan><tspan x="1059.5" y="1673.4">(0.08%)</tspan><tspan x="1059.5" y="1690.7">1091</tspan></text></g>
<g id="n_httplib363" class="node cG"><rect x="1155" y="1620" width="162" height="81" rx="13"/><text><tspan x="1236" y="1639">httplib:363:_read_status</tspan><tspan x="1236" y="1656.2">55.03%</tspan><tspan x="1236" y="1673.4">(0.00%)</tspan><tspan x="1236" y="1690.7">10</tspan></text></g>
<g id="n_httplib751" class="node cT"><rect x="1342" y="1620" width="132" height="81" rx="13"/><text><tspan x="1408" y="1639">httplib:751:connect</tspan><tspan x="1408" y="1656.2">21.43%</tspan><tspan x="1408" y="1673.4">(0.00%)</tspan><tspan x="1408" y="1690.7">10</tspan></text></g>
<g id="n_bs947" class="node n4"><rect x="1529" y="1620" width="171" height="81" rx="13"/><text><tspan x="1614.5" y="1639">BeautifulSoup:947:search</tspan><tspan x="1614.5" y="1656.2">1.50%</tspan><tspan x="1614.5" y="1673.4">(0.24%)</tspan><tspan x="1614.5" y="1690.7">9623</tspan></text></g>
<g id="n_session1497" class="node n6"><rect x="281" y="1759" width="137" height="81" rx="13"/><text><tspan x="349.5" y="1778">session:1497:_flush</tspan><tspan x="349.5" y="1795.2">2.17%</tspan><tspan x="349.5" y="1812.4">(0.03%)</tspan><tspan x="349.5" y="1829.7">252</tspan></text></g>
<g id="n_bs1327" class="node n3"><rect x="757" y="1759" width="240" height="81" rx="13"/><text><tspan x="877" y="1778">BeautifulSoup:1327:unknown_starttag</tspan><tspan x="877" y="1795.2">1.27%</tspan><tspan x="877" y="1812.4">(0.20%)</tspan><tspan x="877" y="1829.7">1091</tspan></text></g>
<g id="n_socket406" class="node cG"><rect x="1135" y="1759" width="133" height="81" rx="13"/><text><tspan x="1201.5" y="1778">socket:406:readline</tspan><tspan x="1201.5" y="1795.2">55.18%</tspan><tspan x="1201.5" y="1812.4">(0.09%)</tspan><tspan x="1201.5" y="1829.7">60</tspan></text></g>
<g id="n_socket537" class="node cT"><rect x="1310" y="1759" width="195" height="81" rx="13"/><text><tspan x="1407.5" y="1778">socket:537:create_connection</tspan><tspan x="1407.5" y="1795.2">21.43%</tspan><tspan x="1407.5" y="1812.4">(0.00%)</tspan><tspan x="1407.5" y="1829.7">10</tspan></text></g>
<g id="n_bs974" class="node n1"><rect x="1600" y="1759" width="188" height="81" rx="13"/><text><tspan x="1694" y="1778">BeautifulSoup:974:_matches</tspan><tspan x="1694" y="1795.2">0.80%</tspan><tspan x="1694" y="1812.4">(0.43%)</tspan><tspan x="1694" y="1829.7">9623</tspan></text></g>
<g id="n_uow306" class="node n5"><rect x="271" y="1898" width="156" height="81" rx="13"/><text><tspan x="349" y="1917">unitofwork:306:execute</tspan><tspan x="349" y="1934.2">1.91%</tspan><tspan x="349" y="1951.4">(0.02%)</tspan><tspan x="349" y="1968.7">81</tspan></text></g>
<g id="n_bs1236" class="node n1"><rect x="784" y="1898" width="187" height="81" rx="13"/><text><tspan x="877.5" y="1917">BeautifulSoup:1236:endData</tspan><tspan x="877.5" y="1934.2">0.70%</tspan><tspan x="877.5" y="1951.4">(0.39%)</tspan><tspan x="877.5" y="1968.7">2332</tspan></text></g>
<g id="n_socket_recv" class="node cG"><rect x="1045" y="1898" width="291" height="81" rx="13"/><text><tspan x="1190.5" y="1917">~:0:&lt;method 'recv' of '_socket.socket' objects&gt;</tspan><tspan x="1190.5" y="1934.2">55.07%</tspan><tspan x="1190.5" y="1951.4">(55.08%)</tspan><tspan x="1190.5" y="1968.7">1331</tspan></text></g>
<g id="n_socket223" class="node cT2"><rect x="1348" y="1898" width="118" height="81" rx="13"/><text><tspan x="1407" y="1917">socket:223:meth</tspan><tspan x="1407" y="1934.2">20.66%</tspan><tspan x="1407" y="1951.4">(0.00%)</tspan><tspan x="1407" y="1968.7">20</tspan></text></g>
<g id="n_getaddrinfo" class="node n1"><rect x="1477" y="1898" width="173" height="81" rx="13"/><text><tspan x="1563.5" y="1917">~:0:&lt;_socket.getaddrinfo&gt;</tspan><tspan x="1563.5" y="1934.2">0.77%</tspan><tspan x="1563.5" y="1951.4">(0.77%)</tspan><tspan x="1563.5" y="1968.7">10</tspan></text></g>
<g id="n_hasattr" class="node n0"><rect x="1675" y="1898" width="106" height="81" rx="13"/><text><tspan x="1728" y="1917">~:0:&lt;hasattr&gt;</tspan><tspan x="1728" y="1934.2">0.52%</tspan><tspan x="1728" y="1951.4">(0.43%)</tspan><tspan x="1728" y="1968.7">42549</tspan></text></g>
<g id="n_uow468" class="node n1"><rect x="233" y="2036" width="156" height="81" rx="13"/><text><tspan x="311" y="2055">unitofwork:468:execute</tspan><tspan x="311" y="2072.2">0.71%</tspan><tspan x="311" y="2089.4">(0.02%)</tspan><tspan x="311" y="2106.7">294</tspan></text></g>
<g id="n_uow255" class="node n0"><rect x="399" y="2036" width="217" height="81" rx="13"/><text><tspan x="507.5" y="2055">unitofwork:255:_generate_actions</tspan><tspan x="507.5" y="2072.2">0.53%</tspan><tspan x="507.5" y="2089.4">(0.02%)</tspan><tspan x="507.5" y="2106.7">81</tspan></text></g>
<g id="n_socket_connect" class="node cT2"><rect x="1249" y="2036" width="316" height="81" rx="13"/><text><tspan x="1407" y="2055">~:0:&lt;method 'connect' of '_socket.socket' objects&gt;</tspan><tspan x="1407" y="2072.2">20.65%</tspan><tspan x="1407" y="2089.4">(20.65%)</tspan><tspan x="1407" y="2106.7">10</tspan></text></g>
<g id="n_mapper1850" class="node n1"><rect x="231" y="2175" width="159" height="81" rx="13"/><text><tspan x="310.5" y="2194">mapper:1850:_save_obj</tspan><tspan x="310.5" y="2211.2">0.70%</tspan><tspan x="310.5" y="2228.4">(0.13%)</tspan><tspan x="310.5" y="2245.7">294</tspan></text></g>
<g id="n_base1335" class="node n6"><rect x="178" y="2314" width="132" height="81" rx="13"/><text><tspan x="244" y="2333">base:1335:execute</tspan><tspan x="244" y="2350.2">2.28%</tspan><tspan x="244" y="2367.4">(0.02%)</tspan><tspan x="244" y="2384.7">460</tspan></text></g>
<g id="n_base1497" class="node n6"><rect x="128" y="2452" width="231" height="81" rx="13"/><text><tspan x="243.5" y="2471">base:1497:_execute_clauseelement</tspan><tspan x="243.5" y="2488.2">2.23%</tspan><tspan x="243.5" y="2505.4">(0.04%)</tspan><tspan x="243.5" y="2522.7">455</tspan></text></g>
<g id="n_expr1605" class="node n2"><rect x="19" y="2591" width="167" height="81" rx="13"/><text><tspan x="102.5" y="2610">expression:1605:compile</tspan><tspan x="102.5" y="2627.2">1.12%</tspan><tspan x="102.5" y="2644.4">(0.01%)</tspan><tspan x="102.5" y="2661.7">307</tspan></text></g>
<g id="n_base1583" class="node n2"><rect x="197" y="2591" width="190" height="81" rx="13"/><text><tspan x="292" y="2610">base:1583:_execute_context</tspan><tspan x="292" y="2627.2">1.07%</tspan><tspan x="292" y="2644.4">(0.06%)</tspan><tspan x="292" y="2661.7">460</tspan></text></g>
<g id="n_expr1649" class="node n2"><rect x="14" y="2730" width="177" height="81" rx="13"/><text><tspan x="102.5" y="2749">expression:1649:_compiler</tspan><tspan x="102.5" y="2766.2">1.11%</tspan><tspan x="102.5" y="2783.4">(0.01%)</tspan><tspan x="102.5" y="2800.7">307</tspan></text></g>
<g id="n_compiler201" class="node n2"><rect x="30" y="2869" width="145" height="81" rx="13"/><text><tspan x="102.5" y="2888">compiler:201:__init__</tspan><tspan x="102.5" y="2905.2">1.10%</tspan><tspan x="102.5" y="2922.4">(0.04%)</tspan><tspan x="102.5" y="2939.7">307</tspan></text></g>
<g id="n_base683" class="node n2"><rect x="40" y="3007" width="124" height="81" rx="13"/><text><tspan x="102" y="3026">base:683:__init__</tspan><tspan x="102" y="3043.2">1.06%</tspan><tspan x="102" y="3060.4">(0.01%)</tspan><tspan x="102" y="3077.7">307</tspan></text></g>
<g id="n_base717" class="node n2"><rect x="39" y="3146" width="127" height="81" rx="13"/><text><tspan x="102.5" y="3165">base:717:process</tspan><tspan x="102.5" y="3182.2">1.05%</tspan><tspan x="102.5" y="3199.4">(0.01%)</tspan><tspan x="102.5" y="3216.7">670</tspan></text></g>
<g id="n_visitors58" class="node n2"><rect x="4" y="3285" width="197" height="81" rx="13"/><text><tspan x="102.5" y="3304">visitors:58:_compiler_dispatch</tspan><tspan x="102.5" y="3321.2">1.04%</tspan><tspan x="102.5" y="3338.4">(0.11%)</tspan><tspan x="102.5" y="3355.7">4228</tspan></text></g>
<g id="n_compiler781" class="node n1"><rect x="21" y="3424" width="163" height="81" rx="13"/><text><tspan x="102.5" y="3443">compiler:781:visit_select</tspan><tspan x="102.5" y="3460.2">0.89%</tspan><tspan x="102.5" y="3477.4">(0.10%)</tspan><tspan x="102.5" y="3494.7">203</tspan></text></g>
</svg>
